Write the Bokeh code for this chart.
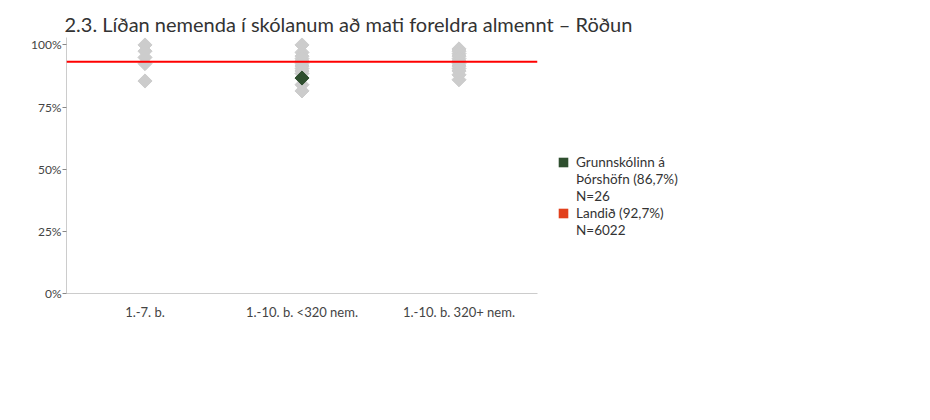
import math
from bokeh.plotting import figure
from bokeh.models import (Range1d, FactorRange, FixedTicker, PrintfTickFormatter,
                          Span, Legend, LegendItem, ColumnDataSource)
from bokeh.embed import file_html
from bokeh.resources import INLINE

categories = ["1.-7. b.", "1.-10. b. <320 nem.", "1.-10. b. 320+ nem."]
cat1_values = [100, 97.5, 95.0, 92.5, 85.5]
cat2_values = [100, 97.0, 95.5, 94.5, 93.5, 92.5, 91.5, 90.5, 89.5, 88.5, 84.0, 81.5]
cat3_values = [98.4, 97.5, 96.5, 95.5, 94.5, 93.5, 92.5, 91.5, 90.5, 89.5, 88.0, 86.0]
school_category = "1.-10. b. <320 nem."
school_value = 86.7
national_value = 93.2
y_ticks = [0, 25, 50, 75, 100]
title_text = "2.3. Líðan nemenda í skólanum að mati foreldra almennt – Röðun"
legend_school_lines = ["Grunnskólinn á", "Þórshöfn (86,7%)", "N=26"]
legend_national_lines = ["Landið (92,7%)", "N=6022"]

FONT = "Lato"
GREY = "#cccccc"
GREEN = "#2f4f2f"
ORANGE = "#e2401c"

p = figure(x_range=FactorRange(*categories), y_range=Range1d(0, 103.0),
           frame_width=471, frame_height=256,
           min_border_left=66, min_border_right=380, min_border_top=37, min_border_bottom=100,
           output_backend="svg", toolbar_location=None, title=title_text)

p.title.text_font = FONT
p.title.text_font_size = "20px"
p.title.text_font_style = "normal"
p.title.text_color = "#333333"
p.title.offset = -2
p.title.standoff = 4

p.grid.visible = False
p.outline_line_color = None

xs, ys = [], []
for cat, vals in zip(categories, [cat1_values, cat2_values, cat3_values]):
    for v in vals:
        xs.append(cat)
        ys.append(v)
grey_src = ColumnDataSource(dict(x=xs, y=ys))
p.scatter("x", "y", source=grey_src, marker="square", angle=math.pi / 4,
          size=10, fill_color=GREY, line_color=GREY)

p.add_layout(Span(location=national_value, dimension="width",
                  line_color="#ff0000", line_width=2))

p.scatter([school_category], [school_value], marker="square", angle=math.pi / 4,
          size=10, fill_color=GREEN, line_color=GREEN)

# legend proxies (degenerate, drawn outside the visible range)
def proxy(color, alpha=1.0):
    return p.quad(left=[0], right=[0], top=[-20], bottom=[-20],
                  fill_color=color, fill_alpha=alpha, line_color=None)

r_school = proxy(GREEN)
r_nat = proxy(ORANGE)
r_blank = proxy("#ffffff", 0.0)

items = [LegendItem(label=legend_school_lines[0], renderers=[r_school])]
items += [LegendItem(label=t, renderers=[r_blank]) for t in legend_school_lines[1:]]
items += [LegendItem(label=legend_national_lines[0], renderers=[r_nat])]
items += [LegendItem(label=t, renderers=[r_blank]) for t in legend_national_lines[1:]]

legend = Legend(items=items,
                location=(20, 55), padding=0, margin=0, spacing=1,
                glyph_width=12, glyph_height=12, label_standoff=7,
                border_line_color=None, background_fill_alpha=0,
                label_text_font=FONT, label_text_font_size="13.5px",
                label_text_color="#333333")
p.add_layout(legend, "right")

p.yaxis.ticker = FixedTicker(ticks=y_ticks)
p.yaxis.formatter = PrintfTickFormatter(format="%d%%")
p.yaxis.minor_tick_line_color = None
p.yaxis.major_tick_in = 0
p.yaxis.major_tick_out = 4
p.yaxis.major_tick_line_color = "#888888"
p.yaxis.axis_line_color = "#cccccc"
p.yaxis.major_label_text_font = FONT
p.yaxis.major_label_text_font_size = "12px"
p.yaxis.major_label_text_color = "#444444"
p.yaxis.major_label_standoff = 1

p.xaxis.major_tick_line_color = None
p.xaxis.minor_tick_line_color = None
p.xaxis.axis_line_color = "#cccccc"
p.xaxis.major_label_text_font = FONT
p.xaxis.major_label_text_font_size = "13px"
p.xaxis.major_label_text_color = "#444444"
p.xaxis.major_label_standoff = 4

open("out.html", "w").write(file_html(p, INLINE))
